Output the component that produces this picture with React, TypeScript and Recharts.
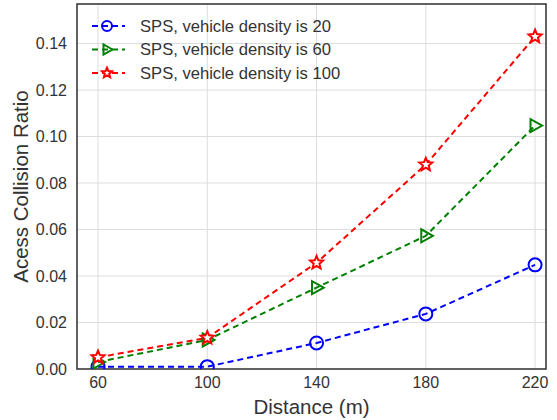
import React from 'react';
import { CartesianGrid, Label, Legend, Line, LineChart, ReferenceArea, XAxis, YAxis } from 'recharts';

const distances = [60, 100, 140, 180, 220];
const density20 = [0.001, 0.001, 0.0112, 0.0237, 0.0448];
const density60 = [0.003, 0.0125, 0.035, 0.0573, 0.1047];
const density100 = [0.005, 0.0134, 0.0457, 0.0879, 0.143];
const xTicks = [60, 100, 140, 180, 220];
const yTicks = [0, 0.02, 0.04, 0.06, 0.08, 0.1, 0.12, 0.14];

const seriesNames = [
  'SPS, vehicle density is 20',
  'SPS, vehicle density is 60',
  'SPS, vehicle density is 100',
];

const data = distances.map((d, i) => ({
  distance: d,
  d20: density20[i],
  d60: density60[i],
  d100: density100[i],
}));

const FONT = '"Liberation Sans", Arial, sans-serif';
const TEXT = '#333333';

const starPath = (cx: number, cy: number, r: number) => {
  const pts: string[] = [];
  for (let i = 0; i < 10; i++) {
    const rad = i % 2 === 0 ? r : r * 0.45;
    const a = -Math.PI / 2 + (i * Math.PI) / 5;
    pts.push(`${cx + rad * Math.cos(a)},${cy + rad * Math.sin(a)}`);
  }
  return `M${pts.join('L')}Z`;
};

const Marker = ({ kind, cx, cy, size }: { kind: string; cx: number; cy: number; size: number }) => {
  if (kind === 'circle') {
    return <circle cx={cx} cy={cy} r={size} fill="none" stroke="#0000ff" strokeWidth={2} />;
  }
  if (kind === 'tri') {
    const s = size;
    return (
      <path
        d={`M${cx + s * 1.1},${cy} L${cx - s * 0.7},${cy - s} L${cx - s * 0.7},${cy + s} Z`}
        fill="none"
        stroke="#008000"
        strokeWidth={2}
      />
    );
  }
  return <path d={starPath(cx, cy, size * 1.05)} fill="#ffffff" stroke="#ff0000" strokeWidth={2} strokeLinejoin="miter" />;
};

const makeDot = (kind: string) => (props: any) => {
  const { cx, cy, index } = props;
  if (cx == null || cy == null) return <g key={`n-${index}`} />;
  return <Marker key={`${kind}-${index}`} kind={kind} cx={cx} cy={cy} size={6.5} />;
};

const legendItems = [
  { name: seriesNames[0], color: '#0000ff', kind: 'circle' },
  { name: seriesNames[1], color: '#008000', kind: 'tri' },
  { name: seriesNames[2], color: '#ff0000', kind: 'star' },
];

const renderLegend = () => (
  <svg width={280} height={80} style={{ overflow: 'visible', display: 'block' }}>
    {legendItems.map((it, i) => {
      const y = 15 + i * 23.5;
      return (
        <g key={it.name}>
          <line x1={0} x2={33} y1={y} y2={y} stroke={it.color} strokeWidth={2} strokeDasharray="6 4" />
          <Marker kind={it.kind} cx={15} cy={y} size={5} />
          <text x={48} y={y} dy="0.35em" fontSize={16.6} fill={TEXT} fontFamily={FONT}>
            {it.name}
          </text>
        </g>
      );
    })}
  </svg>
);

const renderYLabel = (props: any) => {
  const vb = props.viewBox || {};
  const cy = (vb.y ?? 4) + (vb.height ?? 365) / 2;
  return (
    <text
      x={28}
      y={cy}
      transform={`rotate(-90, 28, ${cy})`}
      textAnchor="middle"
      fontSize={20.5}
      fill={TEXT}
      fontFamily={FONT}
    >
      Acess Collision Ratio
    </text>
  );
};

export default function App() {
  return (
    <div style={{ position: 'absolute', left: 0, top: 0, background: '#ffffff' }}>
      <LineChart width={557} height={420} data={data} margin={{ top: 4, right: 11, left: 0, bottom: 0 }}>
        <CartesianGrid stroke="#dddddd" strokeWidth={1} vertical horizontal />
        <XAxis
          dataKey="distance"
          type="number"
          domain={[52.3, 224]}
          ticks={xTicks}
          height={51}
          axisLine={false}
          tickLine={false}
          tick={{ fontSize: 16, fill: TEXT, fontFamily: FONT }}
          tickMargin={2}
        >
          <Label
            value="Distance (m)"
            position="insideBottom"
            offset={6}
            style={{ fontSize: 20.5, fill: TEXT, fontFamily: FONT }}
          />
        </XAxis>
        <YAxis
          type="number"
          domain={[0, 0.157]}
          ticks={yTicks}
          width={77}
          axisLine={false}
          tickLine={false}
          tick={{ fontSize: 16, fill: TEXT, fontFamily: FONT }}
          tickFormatter={(v: number) => v.toFixed(2)}
          tickMargin={4}
          allowDataOverflow
        >
          <Label content={renderYLabel} />
        </YAxis>
        <ReferenceArea
          x1={52.3}
          x2={224}
          y1={0}
          y2={0.157}
          fill="none"
          stroke="#333333"
          strokeWidth={1.5}
          ifOverflow="visible"
        />
        <Legend
          layout="horizontal"
          verticalAlign="middle"
          align="center"
          content={renderLegend}
          wrapperStyle={{ top: 11, left: 92, width: 280, height: 80 }}
        />
        <Line
          type="linear"
          dataKey="d20"
          name={seriesNames[0]}
          stroke="#0000ff"
          strokeWidth={2}
          strokeDasharray="6 4"
          dot={makeDot('circle')}
          activeDot={false}
          isAnimationActive={false}
        />
        <Line
          type="linear"
          dataKey="d60"
          name={seriesNames[1]}
          stroke="#008000"
          strokeWidth={2}
          strokeDasharray="6 4"
          dot={makeDot('tri')}
          activeDot={false}
          isAnimationActive={false}
        />
        <Line
          type="linear"
          dataKey="d100"
          name={seriesNames[2]}
          stroke="#ff0000"
          strokeWidth={2}
          strokeDasharray="6 4"
          dot={makeDot('star')}
          activeDot={false}
          isAnimationActive={false}
        />
      </LineChart>
    </div>
  );
}
